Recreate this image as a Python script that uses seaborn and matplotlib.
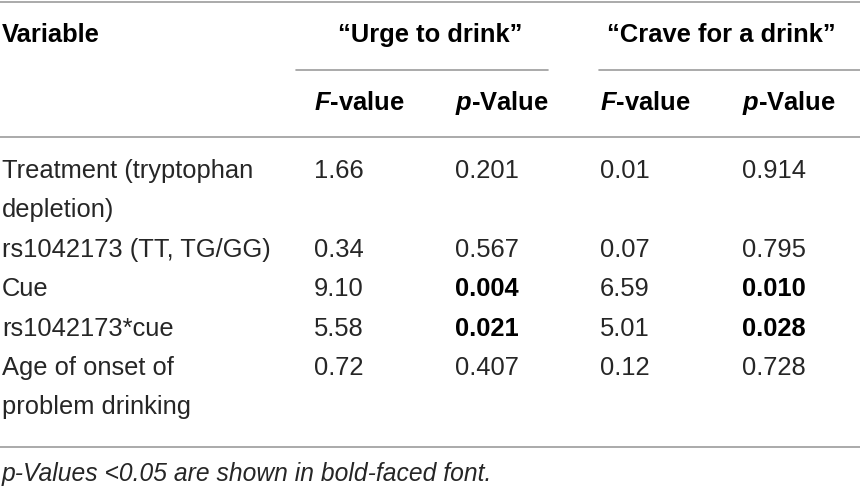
import matplotlib
matplotlib.use("Agg")
import matplotlib.pyplot as plt
import seaborn as sns

# table content
variables = [
    ["Treatment (tryptophan", "depletion)"],
    ["rs1042173 (TT, TG/GG)"],
    ["Cue"],
    ["rs1042173*cue"],
    ["Age of onset of", "problem drinking"],
]
urge_f = [1.66, 0.34, 9.10, 5.58, 0.72]
urge_p = [0.201, 0.567, 0.004, 0.021, 0.407]
crave_f = [0.01, 0.07, 6.59, 5.01, 0.12]
crave_p = [0.914, 0.795, 0.010, 0.028, 0.728]
groups = ["\u201cUrge to drink\u201d", "\u201cCrave for a drink\u201d"]
footnote = "p-Values <0.05 are shown in bold-faced font."

sns.set_theme(style="white")
plt.rcParams["font.family"] = ["Liberation Sans", "DejaVu Sans"]
plt.rcParams["mathtext.fontset"] = "custom"
plt.rcParams["mathtext.rm"] = "Liberation Sans"
plt.rcParams["mathtext.it"] = "Liberation Sans:italic"
plt.rcParams["mathtext.bf"] = "Liberation Sans:bold"
plt.rcParams["mathtext.bfit"] = "Liberation Sans:bold:italic"

fig = plt.figure(figsize=(8.6, 4.92), dpi=100)
ax = fig.add_axes([0, 0, 1, 1])
ax.set_xlim(0, 860)
ax.set_ylim(492, 0)
ax.axis("off")

fs = 18.4
txt = "#262626"
rule = "#9c9c9c"
col_x = [2, 314, 455, 600, 742]

# rules
ax.plot([0, 860], [1.5, 1.5], color=rule, lw=1.2)
ax.plot([296, 548], [69.5, 69.5], color=rule, lw=1.2)
ax.plot([599, 860], [69.5, 69.5], color=rule, lw=1.2)
ax.plot([0, 860], [137, 137], color=rule, lw=1.2)
ax.plot([0, 860], [447, 447], color=rule, lw=1.2)

# header
ax.text(col_x[0], 42, "Variable", fontsize=fs, fontweight="bold", color="black", va="baseline")
ax.text(430, 42, groups[0], fontsize=fs, fontweight="bold", color="black", va="baseline", ha="center")
ax.text(721, 42, groups[1], fontsize=fs, fontweight="bold", color="black", va="baseline", ha="center")
for i, lab in enumerate([r"$\mathbfit{F}$-value", r"$\mathbfit{p}$-Value"] * 2):
    ax.text(col_x[i + 1], 110, lab, fontsize=fs, fontweight="bold", color="black", va="baseline")

# body
first_base = 178
step = 39.4
line = 0
for r, names in enumerate(variables):
    y = first_base + line * step
    for k, nm in enumerate(names):
        ax.text(col_x[0], y + k * step, nm, fontsize=fs, color=txt, va="baseline")
    cells = [(urge_f[r], 2), (urge_p[r], 3), (crave_f[r], 2), (crave_p[r], 3)]
    for c, (val, nd) in enumerate(cells):
        bold = nd == 3 and val < 0.05
        ax.text(col_x[c + 1], y, f"{val:.{nd}f}", fontsize=fs, color="black" if bold else txt,
                fontweight="bold" if bold else "normal", va="baseline")
    line += len(names)

ax.text(col_x[0], 481, footnote, fontsize=17.7, style="italic", color=txt, va="baseline")

fig.savefig("out.png", dpi=100)
